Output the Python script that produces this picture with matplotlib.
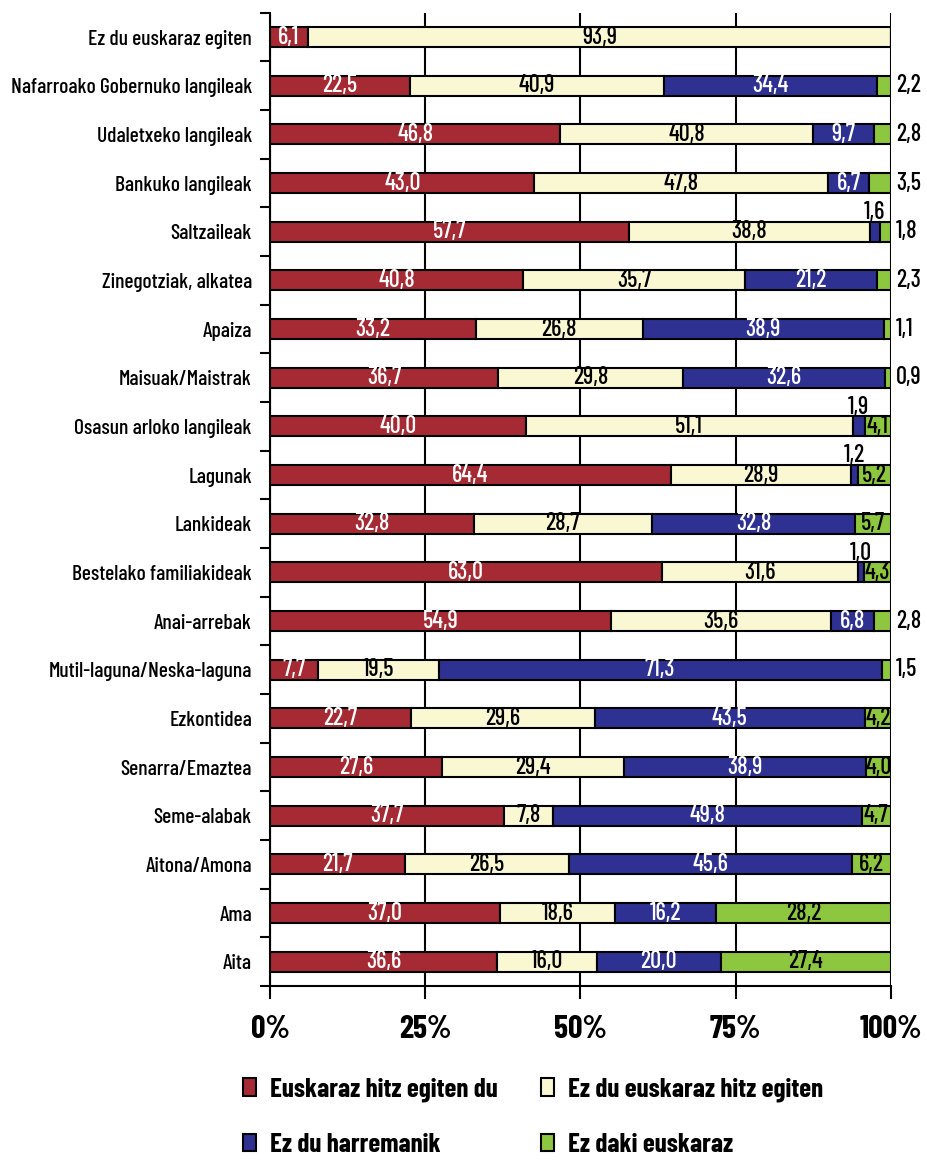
import matplotlib
matplotlib.use('Agg')
import matplotlib.pyplot as plt
import numpy as np
from matplotlib.patches import Patch
from matplotlib.ticker import FixedLocator

categories = ['Ez du euskaraz egiten', 'Nafarroako Gobernuko langileak', 'Udaletxeko langileak',
              'Bankuko langileak', 'Saltzaileak', 'Zinegotziak, alkatea', 'Apaiza',
              'Maisuak/Maistrak', 'Osasun arloko langileak', 'Lagunak', 'Lankideak',
              'Bestelako familiakideak', 'Anai-arrebak', 'Mutil-laguna/Neska-laguna',
              'Ezkontidea', 'Senarra/Emaztea', 'Seme-alabak', 'Aitona/Amona', 'Ama', 'Aita']

euskaraz = [6.1, 22.5, 46.8, 43.0, 57.7, 40.8, 33.2, 36.7, 40.0, 64.4,
            32.8, 63.0, 54.9, 7.7, 22.7, 27.6, 37.7, 21.7, 37.0, 36.6]
ez_euskaraz = [93.9, 40.9, 40.8, 47.8, 38.8, 35.7, 26.8, 29.8, 51.1, 28.9,
               28.7, 31.6, 35.6, 19.5, 29.6, 29.4, 7.8, 26.5, 18.6, 16.0]
harremanik = [0.0, 34.4, 9.7, 6.7, 1.6, 21.2, 38.9, 32.6, 1.9, 1.2,
              32.8, 1.0, 6.8, 71.3, 43.5, 38.9, 49.8, 45.6, 16.2, 20.0]
ez_daki = [0.0, 2.2, 2.8, 3.5, 1.8, 2.3, 1.1, 0.9, 4.1, 5.2,
           5.7, 4.3, 2.8, 1.5, 4.2, 4.0, 4.7, 6.2, 28.2, 27.4]

series_names = ['Euskaraz hitz egiten du', 'Ez du euskaraz hitz egiten',
                'Ez du harremanik', 'Ez daki euskaraz']
colors = ['#A52A33', '#FAF8D3', '#2E3192', '#8DC63F']
text_colors = ['white', 'black', 'white', 'black']

plt.rcParams['font.family'] = ['Barlow Condensed', 'DejaVu Sans']

fig = plt.figure(figsize=(9.28, 11.6), dpi=100)
ax = fig.add_axes([0.291, 0.15, 0.669, 0.839])

data = np.array([euskaraz, ez_euskaraz, harremanik, ez_daki])
totals = data.sum(axis=0)
pct = data / totals * 100
n = len(categories)
y = np.arange(n)

left = np.zeros(n)
for k in range(4):
    ax.barh(y, pct[k], left=left, height=0.41, color=colors[k],
            edgecolor='black', linewidth=1.5, zorder=3)
    for i in range(n):
        v = data[k, i]
        if v == 0:
            continue
        lab = f'{v:.1f}'.replace('.', ',')
        cx = left[i] + pct[k, i] / 2
        if k == 3 and v < 4:
            # small "ez daki" values sit right of the bar
            ax.text(100.8, y[i], lab, ha='left', va='center', fontsize=17.5,
                    fontweight='medium', color='black', zorder=5, clip_on=False)
        elif k == 2 and v < 2:
            # tiny blue segments get their label above the bar
            ax.text(cx, y[i] - 0.26, lab, ha='center', va='baseline', fontsize=17.5,
                    fontweight='medium', color='black', zorder=5)
        else:
            ax.text(cx, y[i], lab, ha='center', va='center', fontsize=17.5,
                    fontweight='medium', color=text_colors[k], zorder=5)
    left += pct[k]

ax.set_xlim(0, 100)
ax.set_ylim(n - 0.5, -0.5)
ax.set_yticks(y)
ax.set_yticklabels(categories, fontsize=15.5, fontweight='medium')
ax.tick_params(axis='y', which='major', length=0, pad=13)
ax.yaxis.set_minor_locator(FixedLocator(np.arange(-0.5, n, 1.0)))
ax.tick_params(axis='y', which='minor', length=7, width=1.5, direction='out')
ax.set_xticks([0, 25, 50, 75, 100])
ax.set_xticklabels(['0%', '25%', '50%', '75%', '100%'], fontsize=23, fontweight='bold')
ax.tick_params(axis='x', length=9, width=1.5, direction='out', pad=12)
ax.grid(axis='x', color='black', linewidth=1.5, zorder=0)
for s in ['top', 'right']:
    ax.spines[s].set_visible(False)
for s in ['left', 'bottom']:
    ax.spines[s].set_linewidth(1.5)

handles = [Patch(facecolor=c, edgecolor='black', linewidth=1.5) for c in colors]
order = [0, 2, 1, 3]
fig.legend([handles[i] for i in order], [series_names[i] for i in order],
           loc='upper left', bbox_to_anchor=(229 / 928, 1 - 1064 / 1160),
           ncol=2, frameon=False, prop={'weight': 'bold', 'size': 19.5},
           borderpad=0, handlelength=0.5, handleheight=0.6, handletextpad=0.5,
           columnspacing=1.6, labelspacing=1.15)

fig.savefig('out.png', dpi=100)
